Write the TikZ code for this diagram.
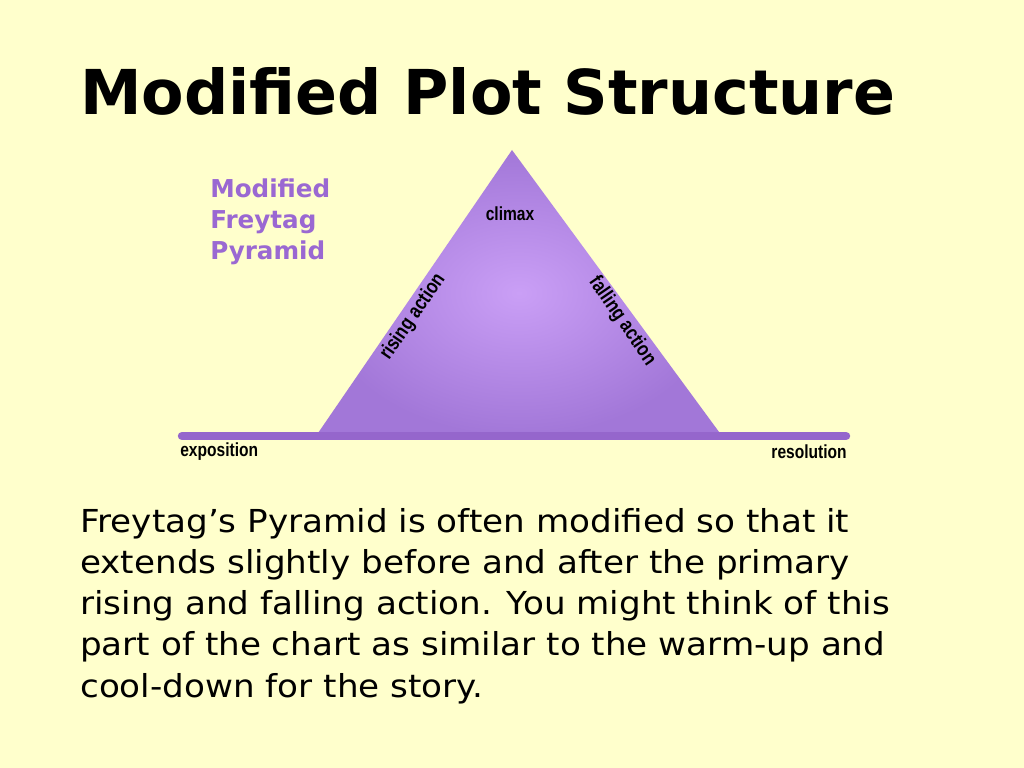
\documentclass[tikz,border=0pt]{standalone}
\usepackage{fontspec}
\setmainfont{DejaVu Sans}
\newfontfamily\labelfont[FakeStretch=0.82]{Liberation Sans}
\newfontfamily\bodyfont[FakeStretch=1.08]{DejaVu Sans}
\usetikzlibrary{positioning}
\definecolor{slidebg}{HTML}{FFFFCC}
\definecolor{pyrlight}{HTML}{CA9FF6}
\definecolor{pyrdark}{HTML}{A277D8}
\definecolor{baseviolet}{HTML}{9566CC}
\definecolor{headpurple}{HTML}{9A68D2}

\begin{document}
\begin{tikzpicture}[x=0.025cm,y=-0.025cm]
      \tikzstyle{lbl} = [inner sep=0pt, font=\labelfont\bfseries\fontsize{13.5}{15}\selectfont]
      \tikzstyle{sidelbl} = [lbl, font=\labelfont\bfseries\fontsize{14.5}{16}\selectfont]
      \tikzstyle{head} = [inner sep=0pt, font=\bfseries\fontsize{17.5}{22}\selectfont, text=headpurple, align=left]
      % background
      \fill[slidebg] (0,0) rectangle (1024,768);
      \useasboundingbox (0,0) rectangle (1024,768);
      % title
      \node (title) [anchor=base west, inner sep=0pt, font=\bfseries\fontsize{44}{50}\selectfont] at (80,115) {Modified Plot Structure};
      % pyramid
      \coordinate (apex) at (512,150);
      \coordinate (bl) at (316,436);
      \coordinate (br) at (722,436);
      \coordinate (lineL) at (182,436);
      \coordinate (lineR) at (846,436);
      \shade[inner color=pyrlight, outer color=pyrdark] (apex)--(br)--(bl)--cycle;
      \draw [baseviolet, line width=6pt, line cap=round] (lineL)--(lineR);
      % labels
      \node (name) [head, anchor=north west] at (210,179) {Modified\\Freytag\\Pyramid};
      \node (climax) [lbl] at (510,214) {climax};
      \node (rising) [sidelbl, rotate=55.5] at (413,317) {rising action};
      \node (falling) [sidelbl, rotate=-55.5] at (622,321) {falling action};
      \node (expo) [lbl, anchor=west] at (180,452) {exposition};
      \node (reso) [lbl, anchor=east] at (847,452) {resolution};
      % text
      \node (body) [anchor=base west, inner sep=0pt, align=left, font=\bodyfont\fontsize{22.5}{29.2}\selectfont] at (80,697)
        {Freytag’s Pyramid is often modified so that it\\
         extends slightly before and after the primary\\
         rising and falling action. You might think of this\\
         part of the chart as similar to the warm-up and\\
         cool-down for the story.};
\end{tikzpicture}
\end{document}
